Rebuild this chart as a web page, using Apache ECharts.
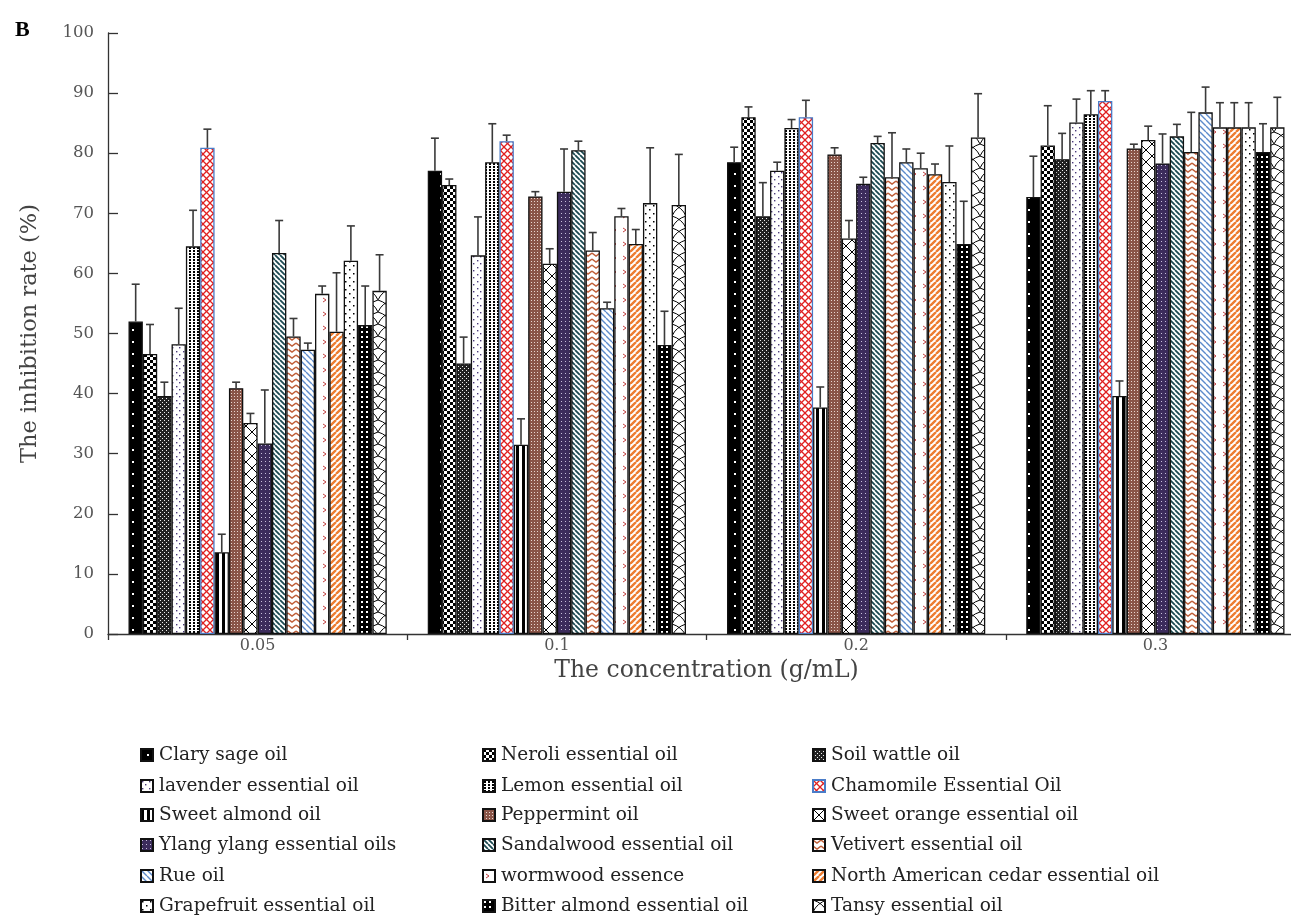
<!DOCTYPE html>
<html><head><meta charset="utf-8">
<script src="https://cdn.jsdelivr.net/npm/echarts/dist/echarts.min.js"></script>
<style>html,body{margin:0;padding:0;background:#fff;overflow:hidden}#c{width:1305px;height:916px}</style>
</head><body><div id="c"></div>
<script>
// ---- data ----
const categories = ['0.05', '0.1', '0.2', '0.3'];
const yTicks = [0, 10, 20, 30, 40, 50, 60, 70, 80, 90, 100];
const oilNames = ['Clary sage oil', 'Neroli essential oil', 'Soil wattle oil',
  'lavender essential oil', 'Lemon essential oil', 'Chamomile Essential Oil',
  'Sweet almond oil', 'Peppermint oil', 'Sweet orange essential oil',
  'Ylang ylang essential oils', 'Sandalwood essential oil', 'Vetivert essential oil',
  'Rue oil', 'wormwood essence', 'North American cedar essential oil',
  'Grapefruit essential oil', 'Bitter almond essential oil', 'Tansy essential oil'];

const clarySage    = [52.0, 77.1, 78.5, 72.7];
const neroli       = [46.6, 74.7, 86.0, 81.3];
const soilWattle   = [39.6, 45.0, 69.5, 79.0];
const lavender     = [48.2, 63.0, 77.1, 85.1];
const lemon        = [64.5, 78.5, 84.2, 86.5];
const chamomile    = [80.9, 82.0, 86.0, 88.7];
const sweetAlmond  = [13.6, 31.5, 37.7, 39.6];
const peppermint   = [40.9, 72.8, 79.8, 80.8];
const sweetOrange  = [35.1, 61.6, 65.8, 82.2];
const ylangYlang   = [31.7, 73.6, 74.9, 78.3];
const sandalwood   = [63.4, 80.5, 81.7, 82.8];
const vetivert     = [49.5, 63.8, 76.0, 80.2];
const rue          = [47.3, 54.2, 78.5, 86.8];
const wormwood     = [56.6, 69.5, 77.5, 84.3];
const naCedar      = [50.3, 64.9, 76.5, 84.3];
const grapefruit   = [62.1, 71.7, 75.2, 84.3];
const bitterAlmond = [51.4, 48.1, 64.9, 80.2];
const tansy        = [57.1, 71.4, 82.6, 84.3];

const clarySageErr    = [6.2, 5.4, 2.5, 6.8];
const neroliErr       = [4.9, 1.0, 1.7, 6.6];
const soilWattleErr   = [2.3, 4.4, 5.6, 4.3];
const lavenderErr     = [6.0, 6.4, 1.4, 3.9];
const lemonErr        = [6.0, 6.4, 1.4, 3.9];
const chamomileErr    = [3.1, 1.0, 2.8, 1.7];
const sweetAlmondErr  = [3.0, 4.3, 3.4, 2.5];
const peppermintErr   = [1.0, 0.8, 1.1, 0.7];
const sweetOrangeErr  = [1.6, 2.5, 3.0, 2.3];
const ylangYlangErr   = [8.9, 7.1, 1.1, 4.9];
const sandalwoodErr   = [5.4, 1.5, 1.1, 2.0];
const vetivertErr     = [3.0, 3.0, 7.4, 6.6];
const rueErr          = [1.1, 1.0, 2.2, 4.2];
const wormwoodErr     = [1.3, 1.3, 2.5, 4.1];
const naCedarErr      = [9.8, 2.4, 1.7, 4.1];
const grapefruitErr   = [5.8, 9.2, 6.0, 4.1];
const bitterAlmondErr = [6.5, 5.6, 7.1, 4.7];
const tansyErr        = [6.0, 8.4, 7.3, 5.0];

const allValues = [clarySage, neroli, soilWattle, lavender, lemon, chamomile, sweetAlmond,
  peppermint, sweetOrange, ylangYlang, sandalwood, vetivert, rue, wormwood, naCedar,
  grapefruit, bitterAlmond, tansy];
const allErrs = [clarySageErr, neroliErr, soilWattleErr, lavenderErr, lemonErr, chamomileErr,
  sweetAlmondErr, peppermintErr, sweetOrangeErr, ylangYlangErr, sandalwoodErr, vetivertErr,
  rueErr, wormwoodErr, naCedarErr, grapefruitErr, bitterAlmondErr, tansyErr];

// ---- fill patterns ----
function pat(w, h, bg, draw) {
  const c = document.createElement('canvas');
  c.width = w; c.height = h;
  const g = c.getContext('2d');
  g.fillStyle = bg; g.fillRect(0, 0, w, h);
  draw(g, w, h);
  return { image: c, repeat: 'repeat' };
}
function dots(g, col, pts, s) { g.fillStyle = col; pts.forEach(p => g.fillRect(p[0], p[1], s, s)); }
function diag(g, col, lw, p, down) {
  g.strokeStyle = col; g.lineWidth = lw; g.beginPath();
  for (let k = -1; k <= 1; k++) {
    if (down) { g.moveTo(k * p, 0); g.lineTo(k * p + p, p); }
    else { g.moveTo(k * p, p); g.lineTo(k * p + p, 0); }
  }
  g.stroke();
}
const fills = [
  pat(14, 12, '#000', g => dots(g, '#fff', [[6, 5]], 2)),
  pat(6, 6, '#fff', g => { g.fillStyle = '#000'; g.fillRect(0, 0, 3, 3); g.fillRect(3, 3, 3, 3); }),
  pat(4, 4, '#222', g => dots(g, '#eee', [[0, 0], [2, 2]], 1)),
  pat(7, 7, '#fff', g => dots(g, '#4b3b7a', [[1, 1], [4, 4]], 1.4)),
  pat(4, 3, '#fff', g => dots(g, '#000', [[1, 1]], 2)),
  pat(7, 7, '#fff', g => { diag(g, '#e02020', 1.3, 7, true); diag(g, '#e02020', 1.3, 7, false); }),
  pat(6, 4, '#fff', g => { g.fillStyle = '#000'; g.fillRect(0, 0, 3, 4); }),
  pat(3, 3, '#8a5548', g => dots(g, '#e8d6d0', [[0, 0]], 1)),
  pat(12, 12, '#fff', g => { diag(g, '#000', 1, 12, true); diag(g, '#000', 1, 12, false); }),
  pat(4, 4, '#3c2c5c', g => dots(g, '#c9c0dc', [[1, 1]], 1)),
  pat(5, 5, '#fff', g => diag(g, '#1c4a52', 1.8, 5, true)),
  pat(8, 6, '#fff', g => { g.strokeStyle = '#c0603a'; g.lineWidth = 1.4; g.beginPath();
    g.moveTo(0, 1); g.lineTo(4, 4); g.lineTo(8, 1); g.stroke(); }),
  pat(6, 6, '#fff', g => diag(g, '#5d8bcc', 1.4, 6, true)),
  pat(10, 14, '#fff', g => { g.strokeStyle = '#c04040'; g.lineWidth = 1; g.beginPath();
    g.moveTo(3, 4); g.lineTo(6, 6); g.lineTo(3, 8); g.stroke(); }),
  pat(6, 6, '#fff', g => diag(g, '#ed7d31', 2.4, 6, false)),
  pat(8, 8, '#fff', g => dots(g, '#000', [[1, 1], [5, 5]], 1.5)),
  pat(5, 5, '#000', g => dots(g, '#fff', [[1, 1]], 2)),
  pat(14, 12, '#fff', g => { g.strokeStyle = '#000'; g.lineWidth = 1; g.beginPath();
    g.moveTo(0, 0); g.quadraticCurveTo(10, 3, 14, 12); g.moveTo(14, 0); g.quadraticCurveTo(4, 3, 0, 12); g.stroke(); })
];
const borders = oilNames.map((n, i) => i === 5 ? '#4a7cc8' : '#111');

const SERIF = '"DejaVu Serif", serif';
const GAP = 0.137;

const barSeries = oilNames.map((name, i) => ({
  name, type: 'bar', data: allValues[i], barGap: '0%', barCategoryGap: (GAP * 100) + '%',
  itemStyle: { color: fills[i], borderColor: borders[i], borderWidth: 1.3 },
  emphasis: { disabled: true }, z: 2
}));

const errData = [];
allValues.forEach((vals, k) => vals.forEach((v, c) => errData.push([c, k, v, allErrs[k][c]])));

const errSeries = {
  type: 'custom', z: 5, silent: true,
  data: errData,
  renderItem(params, api) {
    const c = api.value(0), k = api.value(1), v = api.value(2), e = api.value(3);
    const band = api.size([1, 0])[0];
    const groupW = band * (1 - GAP);
    const bw = groupW / 18;
    const base = api.coord([c, v]);
    const top = api.coord([c, v + e]);
    const x = base[0] - groupW / 2 + (k + 0.5) * bw;
    const st = { stroke: '#3a3a3a', lineWidth: 1.6 };
    return { type: 'group', children: [
      { type: 'line', shape: { x1: x, y1: base[1], x2: x, y2: top[1] }, style: st },
      { type: 'line', shape: { x1: x - 4, y1: top[1], x2: x + 4, y2: top[1] }, style: st }
    ] };
  }
};

// legend: 3 columns x 6 rows, row-major order
const colX = [140, 482, 812];
const rowY = [755, 786, 815, 845, 876, 906];
const legends = oilNames.map((name, i) => ({
  orient: 'horizontal', left: colX[i % 3], top: rowY[Math.floor(i / 3)] - 10, padding: 0,
  itemWidth: 12, itemHeight: 12, icon: 'rect', itemGap: 0,
  data: [name],
  textStyle: { fontFamily: SERIF, fontSize: 18.5, color: '#222', lineHeight: 20, padding: [0, 0, 0, 1] },
  selectedMode: false
}));

const chart = echarts.init(document.getElementById('c'), null, { renderer: 'canvas' });
chart.setOption({
  animation: false,
  backgroundColor: '#fff',
  title: { text: 'B', left: 10, top: 14, textStyle: { fontFamily: '"Liberation Serif", serif', fontWeight: 'bold', fontSize: 22, color: '#000' } },
  grid: { left: 108, top: 33, right: 0, bottom: 282, containLabel: false },
  legend: legends,
  xAxis: {
    type: 'category', data: categories,
    axisLine: { lineStyle: { color: '#333', width: 1.3 } },
    axisTick: { show: true, length: 6, lineStyle: { color: '#333', width: 1.3 } },
    axisLabel: { fontFamily: SERIF, fontSize: 16, color: '#555', margin: 4 },
    name: 'The concentration (g/mL)', nameLocation: 'middle', nameGap: 23,
    nameTextStyle: { fontFamily: SERIF, fontSize: 23.5, color: '#444' }
  },
  yAxis: {
    type: 'value', min: 0, max: 100, interval: 10,
    axisLine: { show: true, lineStyle: { color: '#333', width: 1.3 } },
    axisTick: { show: true, inside: true, length: 10, lineStyle: { color: '#333', width: 1.3 } },
    splitLine: { show: false },
    axisLabel: { fontFamily: SERIF, fontSize: 16.5, color: '#555', margin: 14,
      formatter: v => yTicks.includes(v) ? String(v) : '' },
    name: 'The inhibition rate (%)', nameLocation: 'middle', nameGap: 66,
    nameTextStyle: { fontFamily: SERIF, fontSize: 22.5, color: '#444' }
  },
  series: [...barSeries, errSeries]
});
</script></body></html>
